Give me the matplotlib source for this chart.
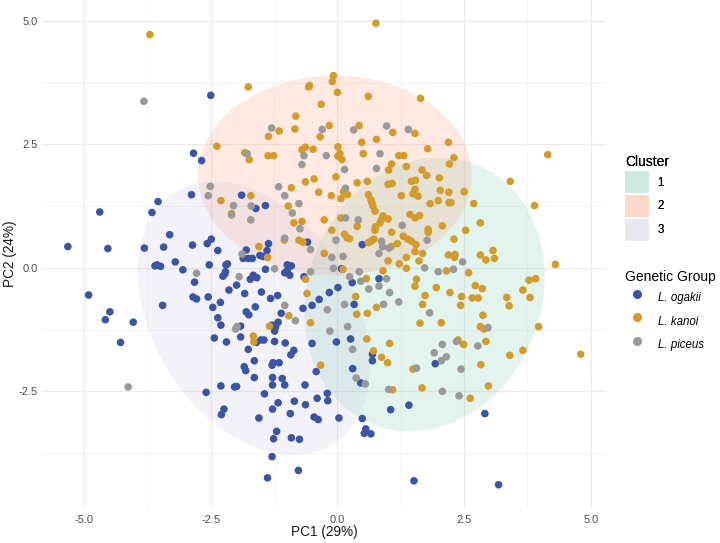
import numpy as np
import matplotlib
matplotlib.use("Agg")
import matplotlib.pyplot as plt
from matplotlib.patches import Patch
from matplotlib.lines import Line2D

plt.rcParams['font.family'] = ['Liberation Sans', 'DejaVu Sans']

# ---------------- data ----------------
ogakii = [(-2.50,3.49),(-2.84,2.32),(-2.68,2.17),
 (-2.88,1.48),(-3.54,1.34),(-4.69,1.13),(-3.66,1.12),(-3.31,0.67),(-5.32,0.43),(-4.53,0.39),(-3.81,0.40),
 (-3.43,0.42),(-2.86,0.46),(-2.57,0.49),(-2.49,0.58),(-2.36,0.35),(-3.20,0.12),(-3.60,0.04),(-3.56,0.06),
 (-3.49,0.03),(-3.05,-0.04),(-2.53,0.06),(-2.20,0.06),(-2.17,0.08),(-2.21,-0.08),(-2.26,-0.17),(-2.22,-0.12),
 (-2.82,-0.29),(-1.99,-0.35),(-2.14,-0.45),(-4.91,-0.55),(-2.85,-0.59),(-2.78,-0.63),(-2.55,-0.59),(-3.45,-0.76),
 (-2.31,-0.70),(-2.46,-0.80),(-4.49,-0.89),(-4.58,-1.05),(-4.03,-1.10),(-2.36,-1.01),(-2.30,-1.16),
 (-4.28,-1.51),(-2.43,-1.42),(-2.19,-1.50),(-2.30,-2.39),(-2.03,-2.41),(-2.59,-2.52),(-2.24,-2.86),(-2.29,-2.97),
 (-1.89,1.47),(-1.42,1.26),(-1.61,1.20),(-0.59,0.52),(0.49,0.47),(-1.36,0.49),(-1.39,0.35),(-1.80,0.36),
 (-1.76,0.19),(-1.86,0.19),(-1.68,0.19),(-1.53,0.25),(-1.47,0.23),(-1.42,-0.03),(-0.99,0.06),(-0.91,0.04),
 (-0.99,-0.06),(-0.94,-0.15),(-1.04,-0.10),(0.08,-0.02),(0.29,-0.30),(0.82,-0.22),(-1.66,-0.15),(-1.72,-0.23),
 (-1.59,-0.20),(-0.66,-0.18),(-0.16,-0.50),(0.01,-0.40),(-1.50,-0.49),(-1.83,-0.52),(-1.18,-0.56),(-1.32,-0.62),
 (-0.36,-0.64),(-1.62,-0.79),(-0.50,-0.76),(-0.68,-0.82),(0.33,-0.74),(-1.80,-0.89),(-1.75,-0.95),(-1.11,-0.92),
 (-1.17,-1.10),(-1.29,-1.16),(-1.22,-1.20),(-1.91,-1.18),
 (-1.24,-1.28),(-1.91,-1.40),(-1.60,-1.51),(-1.51,-1.46),(-1.45,-1.46),(-1.24,-1.49),(-1.03,-1.52),(-0.50,-1.53),
 (-0.02,-1.50),(0.26,-1.44),(0.69,-1.75),(0.69,-1.88),(-1.76,-1.65),(-0.86,-1.67),(-0.92,-1.76),(-1.64,-1.88),
 (-1.27,-1.92),(-1.15,-1.92),(-1.29,-1.97),(-1.84,-2.00),(-1.81,-2.08),(-0.42,-2.10),(0.30,-2.04),(-1.64,-2.22),
 (-1.28,-2.22),(-1.09,-2.24),(0.46,-2.33),(-1.99,-2.40),(-1.28,-2.37),(-1.04,-2.37),(-0.64,-2.37),(-1.44,-2.55),
 (-0.20,-2.54),(-0.19,-2.69),(-0.40,-2.64),(-1.17,-2.73),(-0.85,-2.70),(-0.63,-2.77),(1.41,-2.78),(-1.28,-2.86),
 (1.05,-2.87),(-0.93,-2.95),(-1.55,-3.04),(-0.46,-3.02),(-0.38,-3.07),(0.03,-3.04),(0.49,-3.05),(-1.20,-3.31),
 (-1.26,-3.46),(-0.91,-3.44),(-0.75,-3.47),(0.56,-3.26),(0.53,-3.35),(0.66,-3.36),(-1.29,-3.82),(-0.77,-4.10),
 (-1.38,-4.25),(1.51,-4.31),
 (1.93,-1.94),(2.91,-2.95),(3.18,-4.39)]

kanoi = [(-3.70,4.72),(-2.38,2.46),
 (0.76,4.95),(-1.76,3.66),(-0.08,3.89),(-0.10,3.77),(-0.57,3.66),(-0.55,3.69),(0.00,3.55),(0.61,3.47),(1.64,3.43),
 (-0.32,3.31),(-0.82,3.07),(-1.15,2.77),(-0.84,2.81),(-0.16,2.88),(0.43,2.88),(1.09,2.74),(1.53,2.72),(-1.36,2.66),
 (-0.34,2.65),(0.48,2.54),(0.77,2.60),(-0.63,2.44),(-0.70,2.39),(-0.48,2.40),(0.01,2.45),(-1.83,2.33),(-1.74,2.19),
 (-1.37,2.27),(-1.26,2.27),(0.01,2.26),(0.05,2.31),(0.09,2.19),(0.51,2.31),(1.21,2.27),(1.31,2.27),(1.07,2.10),
 (1.01,1.98),(1.36,2.05),(1.67,1.98),
 (1.78,2.41),(2.19,2.54),(2.30,2.23),(2.21,2.10),(4.15,2.29),
 (-2.30,1.36),(-2.09,1.10),
 (1.76,1.87),(2.01,1.82),(3.41,1.75),(2.03,1.57),(2.20,1.53),(2.50,1.54),(3.89,1.26),(1.83,1.30),(1.99,1.36),
 (2.20,1.32),(2.24,1.32),(2.69,1.30),(1.62,1.06),(2.82,0.91),(2.07,0.85),(1.79,0.78),(1.79,0.72),(2.53,0.76),
 (2.30,0.58),(1.68,0.29),(2.19,0.26),(2.32,0.27),(2.31,0.21),(2.82,0.26),(3.07,0.35),(2.93,0.16),(3.10,0.19),
 (4.30,0.07),(2.15,-0.06),(2.59,-0.10),(3.78,-0.25),(3.91,-0.22),(1.95,-0.40),(2.72,-0.36),(2.86,-0.42),(3.66,-0.45),
 (1.73,-0.56),(2.22,-0.50),(2.45,-0.58),(2.66,-0.61),(2.78,-0.61),(3.34,-0.60),(3.80,-0.60),(1.68,-0.74),(2.43,-0.76),
 (3.39,-0.77),(2.87,-0.96),(2.05,-1.11),(2.82,-1.19),(2.89,-1.24),(3.97,-1.19),
 (2.38,-1.46),(2.49,-1.55),(2.93,-1.49),(2.83,-1.96),(3.40,-1.77),(3.66,-1.67),(4.80,-1.75),(1.67,-2.43),(2.62,-2.64),
 (2.98,-2.39),
 (-1.66,-1.38),(-1.65,-1.50),(0.58,-1.44),(1.03,-1.53),(0.71,-1.68),(0.87,-1.81),(0.99,-1.92),(-0.33,-1.97),
 (1.49,-2.05),(1.09,-2.47),
 (-0.03,1.84),(-0.63,1.74),(-0.46,1.80),(-0.91,1.62),(0.12,1.54),(0.20,1.48),(0.39,1.72),(0.59,1.75),(1.00,1.69),
 (1.08,1.71),(1.46,1.75),(1.54,1.77),(1.53,1.59),(1.49,1.50),(-0.37,1.53),(-0.12,1.46),(0.07,1.40),(0.61,1.48),
 (0.66,1.38),(0.68,1.32),(1.26,1.46),(1.59,1.45),(-1.71,1.46),(-0.97,1.25),(0.70,1.25),(0.74,1.15),(1.43,1.08),
 (1.53,1.01),(-0.86,0.91),(-0.70,0.94),(-0.26,0.97),(0.07,1.01),(0.87,0.98),(0.90,1.05),(1.00,0.99),(0.84,0.91),
 (0.39,0.84),(0.75,0.83),(0.74,0.76),(-0.11,0.76),(0.14,0.68),(0.19,0.61),(0.24,0.59),(1.07,0.72),(1.30,0.64),
 (1.39,0.58),(1.46,0.54),(1.55,0.47),(-1.05,0.56),(-0.76,0.56),(-0.68,0.52),(0.61,0.51),(0.67,0.54),(0.72,0.58),
 (1.18,0.49),(1.06,0.43),(-1.55,0.43),(-1.38,0.21),(-0.26,0.29),(1.53,0.33),(1.36,0.21),(1.00,0.14),(1.61,0.14),
 (1.22,0.08),(1.36,-0.01),(0.11,-0.03),(0.90,-0.06),(0.57,-0.22),(1.56,-0.23),(1.53,-0.37),(-0.63,-0.23),
 (-0.60,-0.52),(0.36,-0.58),(0.77,-0.80),(0.59,-0.92),(0.38,-0.94),(-0.96,-0.97),(-1.34,-1.18),(-0.53,-1.11),
 (1.63,-1.12)]

piceus = [(-3.82,3.37),
 (-1.30,2.83),(-0.30,2.80),(0.32,2.79),(0.97,2.87),(1.40,2.80),(-1.78,2.31),(-0.66,2.27),(-0.22,2.27),(0.84,2.31),
 (-0.70,2.09),(0.77,2.01),(0.14,1.99),
 (-2.51,1.65),(-2.55,1.46),(-2.05,1.26),(-2.09,1.07),(-2.78,-0.11),(-2.01,-1.24),
 (-4.13,-2.41),
 (1.77,0.56),(2.47,0.12),(1.72,0.00),(1.99,-0.08),(2.29,-0.03),(1.82,-0.91),(2.97,-1.21),
 (2.35,-1.49),(2.07,-1.55),(2.77,-1.58),(1.91,-1.72),(2.05,-1.88),(2.15,-1.80),(2.44,-2.05),(2.07,-2.50),(2.40,-2.59),
 (-0.15,-1.28),(0.30,-1.65),(1.56,-2.03),(0.37,-2.23),(0.55,-2.35),(1.01,-2.46),
 (-1.16,1.64),(0.16,1.61),(-1.04,1.46),(-1.70,1.25),(-0.76,1.30),(-0.89,1.11),(-1.71,0.97),(0.16,1.01),(0.41,0.97),
 (1.28,0.86),(-0.74,0.79),(-1.04,0.60),(-0.53,0.37),(-0.03,0.56),(0.87,0.54),(1.02,0.40),(0.89,0.43),(0.82,0.29),
 (-1.88,0.28),(-0.11,0.21),(0.11,0.23),(-1.24,-0.02),(-0.53,-0.08),(-0.08,-0.01),(0.43,-0.08),(0.24,-0.18),
 (0.46,-0.27),(0.97,-0.22),(-1.94,-0.18),(0.62,-0.43),(0.82,-0.37),(1.03,-0.50),(1.21,-0.69),(-1.04,-0.76),
 (-0.20,-0.85),(0.14,-0.74),(0.91,-0.74),(-0.83,-1.07),(-1.98,-1.19),(0.20,-1.19)]

groups = ["L. ogakii", "L. kanoi", "L. piceus"]
group_points = [ogakii, kanoi, piceus]
group_colors = ["#3A55A6", "#D39C2A", "#999999"]

# cluster ellipse summaries (center, half-extent x/y, correlation)
clusters = ["1", "2", "3"]
cluster_cx = [1.72, -0.05, -1.65]
cluster_cy = [-0.54, 1.87, -1.02]
cluster_hx = [2.37, 2.70, 2.29]
cluster_hy = [2.77, 2.02, 2.77]
cluster_r = [0.125, 0.0, -0.34]
cluster_colors = ["#66C2A5", "#FC8D62", "#BEBADA"]
fill_alpha = 0.18

x_ticks = [-5.0, -2.5, 0.0, 2.5, 5.0]
y_ticks = [-2.5, 0.0, 2.5, 5.0]

# ---------------- figure ----------------
fig = plt.figure(figsize=(7.2, 5.43), dpi=100)
ax = fig.add_axes([42/720, 1-507/543, (606-42)/720, 507/543])

t = np.linspace(0, 2*np.pi, 300)
for cx, cy, hx, hy, r, col in zip(cluster_cx, cluster_cy, cluster_hx, cluster_hy, cluster_r, cluster_colors):
    M = np.array([[hx*hx, r*hx*hy], [r*hx*hy, hy*hy]])
    L = np.linalg.cholesky(M)
    pts = L @ np.vstack([np.cos(t), np.sin(t)])
    ax.fill(cx + pts[0], cy + pts[1], color=col, alpha=fill_alpha, lw=0, zorder=1)

for pts, col in zip(group_points, group_colors):
    a = np.array(pts)
    ax.scatter(a[:, 0], a[:, 1], s=30, color=col, edgecolors='none', zorder=3)

ax.set_xlim(-5.83, 5.30)
ax.set_ylim(-4.84, 5.42)
ax.set_xticks(x_ticks)
ax.set_xticklabels([f"{v:.1f}" for v in x_ticks])
ax.set_yticks(y_ticks)
ax.set_yticklabels([f"{v:.1f}" for v in y_ticks])
ax.set_xticks([-3.75, -1.25, 1.25, 3.75], minor=True)
ax.set_yticks([-3.75, -1.25, 1.25, 3.75], minor=True)
ax.grid(True, which='major', color='#EBEBEB', lw=0.9, zorder=0)
ax.grid(True, which='minor', color='#F2F2F2', lw=0.6, zorder=0)
ax.set_axisbelow(True)
for s in ax.spines.values():
    s.set_visible(False)
ax.tick_params(which='both', length=0, labelsize=8, labelcolor='#4D4D4D', pad=3)
ax.tick_params(axis='x', which='both', pad=5.5)
ax.set_xlabel("PC1 (29%)", fontsize=9.8, color='#1A1A1A', labelpad=0.5)
ax.set_ylabel("PC2 (24%)", fontsize=9.8, color='#1A1A1A', labelpad=1)

# legends
ch = [Patch(facecolor=c, alpha=fill_alpha, edgecolor='none') for c in cluster_colors]
leg1 = fig.legend(ch, clusters, title="Cluster", loc='upper left',
                  bbox_to_anchor=(0.862, 0.723), frameon=False, fontsize=8.3,
                  title_fontsize=10, handlelength=2.1, handleheight=2.5,
                  labelspacing=0.2, handletextpad=0.7, alignment='left', borderaxespad=0)
gh = [Line2D([], [], marker='o', ls='none', color=c, markersize=5.5) for c in group_colors]
leg2 = fig.legend(gh, groups, title="Genetic Group", loc='upper left',
                  bbox_to_anchor=(0.862, 0.511), frameon=False, fontsize=8.3,
                  title_fontsize=10, handlelength=2.1, handleheight=2.5,
                  labelspacing=0.2, handletextpad=0.7, alignment='left', borderaxespad=0)
for txt in leg2.get_texts():
    txt.set_fontstyle('italic')
fig.add_artist(leg1)

fig.savefig("out.png", dpi=100)
